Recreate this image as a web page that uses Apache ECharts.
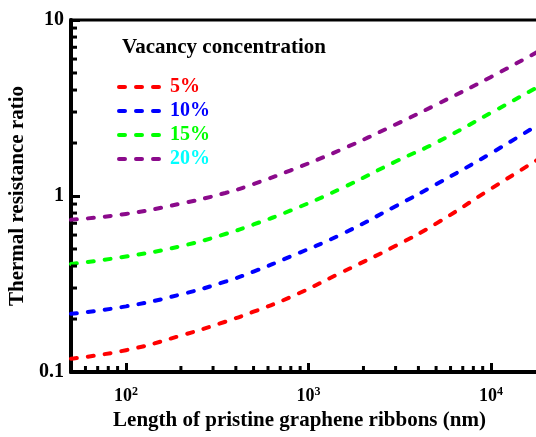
<!DOCTYPE html>
<html>
<head>
<meta charset="utf-8">
<script src="https://cdn.jsdelivr.net/npm/echarts@6/dist/echarts.min.js"></script>
<style>
  html, body { margin: 0; padding: 0; background: #fff; }
  #chart { width: 536px; height: 437px; }
</style>
</head>
<body>
<div id="chart"></div>
<script>
// Ribbon lengths (nm) at which the curves are sampled
const lengths = [50, 100, 200, 350, 500, 800, 1500, 3000, 5000, 10000, 20000];

// Thermal resistance ratio for each vacancy concentration
const ratio5 = [0.119, 0.133, 0.161, 0.193, 0.220, 0.267, 0.366, 0.521, 0.697, 1.10, 1.72];
const ratio10 = [0.214, 0.236, 0.276, 0.326, 0.372, 0.454, 0.603, 0.875, 1.164, 1.75, 2.71];
const ratio15 = [0.411, 0.453, 0.519, 0.608, 0.689, 0.828, 1.10, 1.57, 2.01, 2.97, 4.42];
const ratio20 = [0.733, 0.791, 0.906, 1.04, 1.17, 1.40, 1.83, 2.55, 3.30, 4.75, 7.01];

const seriesNames = ['5%', '10%', '15%', '20%'];
const lineColors = ['#ff0000', '#0000ff', '#00ff00', '#8b0a8b'];
const labelColors = ['#ff0000', '#0000ff', '#00ff00', '#00ffff'];

// Tick labels
const xTickExponents = [2, 3, 4];
const yTickLabels = ['0.1', '1', '10'];
const yTickValues = [0.1, 1, 10];

// Axis ranges
const xMin = 50, xMax = 20000;
const yMin = 0.1, yMax = 10;

// Minor tick positions: 2..9 times each power of ten inside the range
function minorTicks(lo, hi) {
  const out = [];
  for (let e = Math.floor(Math.log10(lo)); e <= Math.ceil(Math.log10(hi)); e++) {
    for (let k = 2; k <= 9; k++) {
      const v = k * Math.pow(10, e);
      if (v > lo && v < hi) out.push(v);
    }
  }
  return out;
}
const xMinor = minorTicks(xMin, xMax);
const yMinor = minorTicks(yMin, yMax);

const FONT = '"Liberation Serif", "Times New Roman", serif';
const DASH = [6, 11];

const chart = echarts.init(document.getElementById('chart'), null, { renderer: 'canvas' });

const dataSets = [ratio5, ratio10, ratio15, ratio20];
const lineSeries = dataSets.map((vals, i) => ({
  name: seriesNames[i],
  type: 'line',
  data: lengths.map((L, j) => [L, vals[j]]),
  smooth: true,
  showSymbol: false,
  symbol: 'none',
  color: lineColors[i],
  lineStyle: { width: 4, type: DASH, cap: 'round', color: lineColors[i] },
  z: 3
}));

// Minor ticks drawn inward from the axis lines
const tickStyle = { stroke: '#000', lineWidth: 3 };
const xMinorSeries = {
  type: 'custom',
  silent: true,
  clip: false,
  data: xMinor.map(v => [v, yMin]),
  renderItem: (params, api) => {
    const p = api.coord([api.value(0), api.value(1)]);
    return { type: 'line', shape: { x1: p[0], y1: p[1], x2: p[0], y2: p[1] - 6 }, style: tickStyle };
  },
  z: 4
};
const yMinorSeries = {
  type: 'custom',
  silent: true,
  clip: false,
  data: yMinor.map(v => [xMin, v]),
  renderItem: (params, api) => {
    const p = api.coord([api.value(0), api.value(1)]);
    return { type: 'line', shape: { x1: p[0], y1: p[1], x2: p[0] + 6, y2: p[1] }, style: tickStyle };
  },
  z: 4
};

chart.setOption({
  backgroundColor: '#fff',
  animation: false,
  title: {
    text: 'Vacancy concentration',
    left: 122,
    top: 37,
    padding: 0,
    textStyle: { fontFamily: FONT, fontWeight: 'bold', fontSize: 21, color: '#000' }
  },
  legend: {
    orient: 'vertical',
    left: 117,
    top: 77,
    padding: 0,
    itemWidth: 44,
    itemHeight: 14,
    itemGap: 4,
    itemStyle: { opacity: 0 },
    lineStyle: { width: 4, type: DASH, cap: 'round' },
    data: seriesNames.map((n, i) => ({
      name: n,
      textStyle: { color: labelColors[i] }
    })),
    textStyle: { fontFamily: FONT, fontWeight: 'bold', fontSize: 20, padding: [0, 0, 0, 2] }
  },
  grid: {
    left: 71,
    top: 20,
    right: -10,
    bottom: 65,
    outerBoundsMode: 'none',
    containLabel: false,
    show: true,
    borderColor: '#000',
    borderWidth: 3,
    backgroundColor: 'transparent'
  },
  xAxis: {
    type: 'log',
    logBase: 10,
    min: xMin,
    max: xMax,
    name: 'Length of pristine graphene ribbons (nm)',
    nameLocation: 'middle',
    nameGap: 38,
    nameTextStyle: { fontFamily: FONT, fontWeight: 'bold', fontSize: 21, color: '#000', padding: [0, 18, 0, 0] },
    axisLine: { show: true, lineStyle: { color: '#000', width: 4 } },
    axisTick: { show: true, inside: true, length: 9, lineStyle: { color: '#000', width: 3 } },
    splitLine: { show: false },
    axisLabel: {
      margin: 14,
      color: '#000',
      fontFamily: FONT,
      fontWeight: 'bold',
      fontSize: 18,
      formatter: v => {
        const e = Math.round(Math.log10(v));
        if (xTickExponents.indexOf(e) < 0 || Math.abs(v - Math.pow(10, e)) > 1e-6 * v) return '';
        return '10{s|' + e + '}';
      },
      rich: {
        s: { fontFamily: FONT, fontWeight: 'bold', fontSize: 12, verticalAlign: 'top', padding: [0, 0, 8, 0], color: '#000' }
      }
    }
  },
  yAxis: {
    type: 'log',
    logBase: 10,
    min: yMin,
    max: yMax,
    name: 'Thermal resistance ratio',
    nameLocation: 'middle',
    nameGap: 35,
    nameTextStyle: { fontFamily: FONT, fontWeight: 'bold', fontSize: 21, color: '#000' },
    axisLine: { show: true, lineStyle: { color: '#000', width: 4 } },
    axisTick: { show: true, inside: true, length: 9, lineStyle: { color: '#000', width: 3 } },
    splitLine: { show: false },
    axisLabel: {
      margin: 7,
      color: '#000',
      fontFamily: FONT,
      fontWeight: 'bold',
      fontSize: 20,
      formatter: v => {
        for (let i = 0; i < yTickValues.length; i++) {
          if (Math.abs(v - yTickValues[i]) < 1e-6 * yTickValues[i]) return yTickLabels[i];
        }
        return '';
      }
    }
  },
  series: lineSeries.concat([xMinorSeries, yMinorSeries])
});
</script>
</body>
</html>
